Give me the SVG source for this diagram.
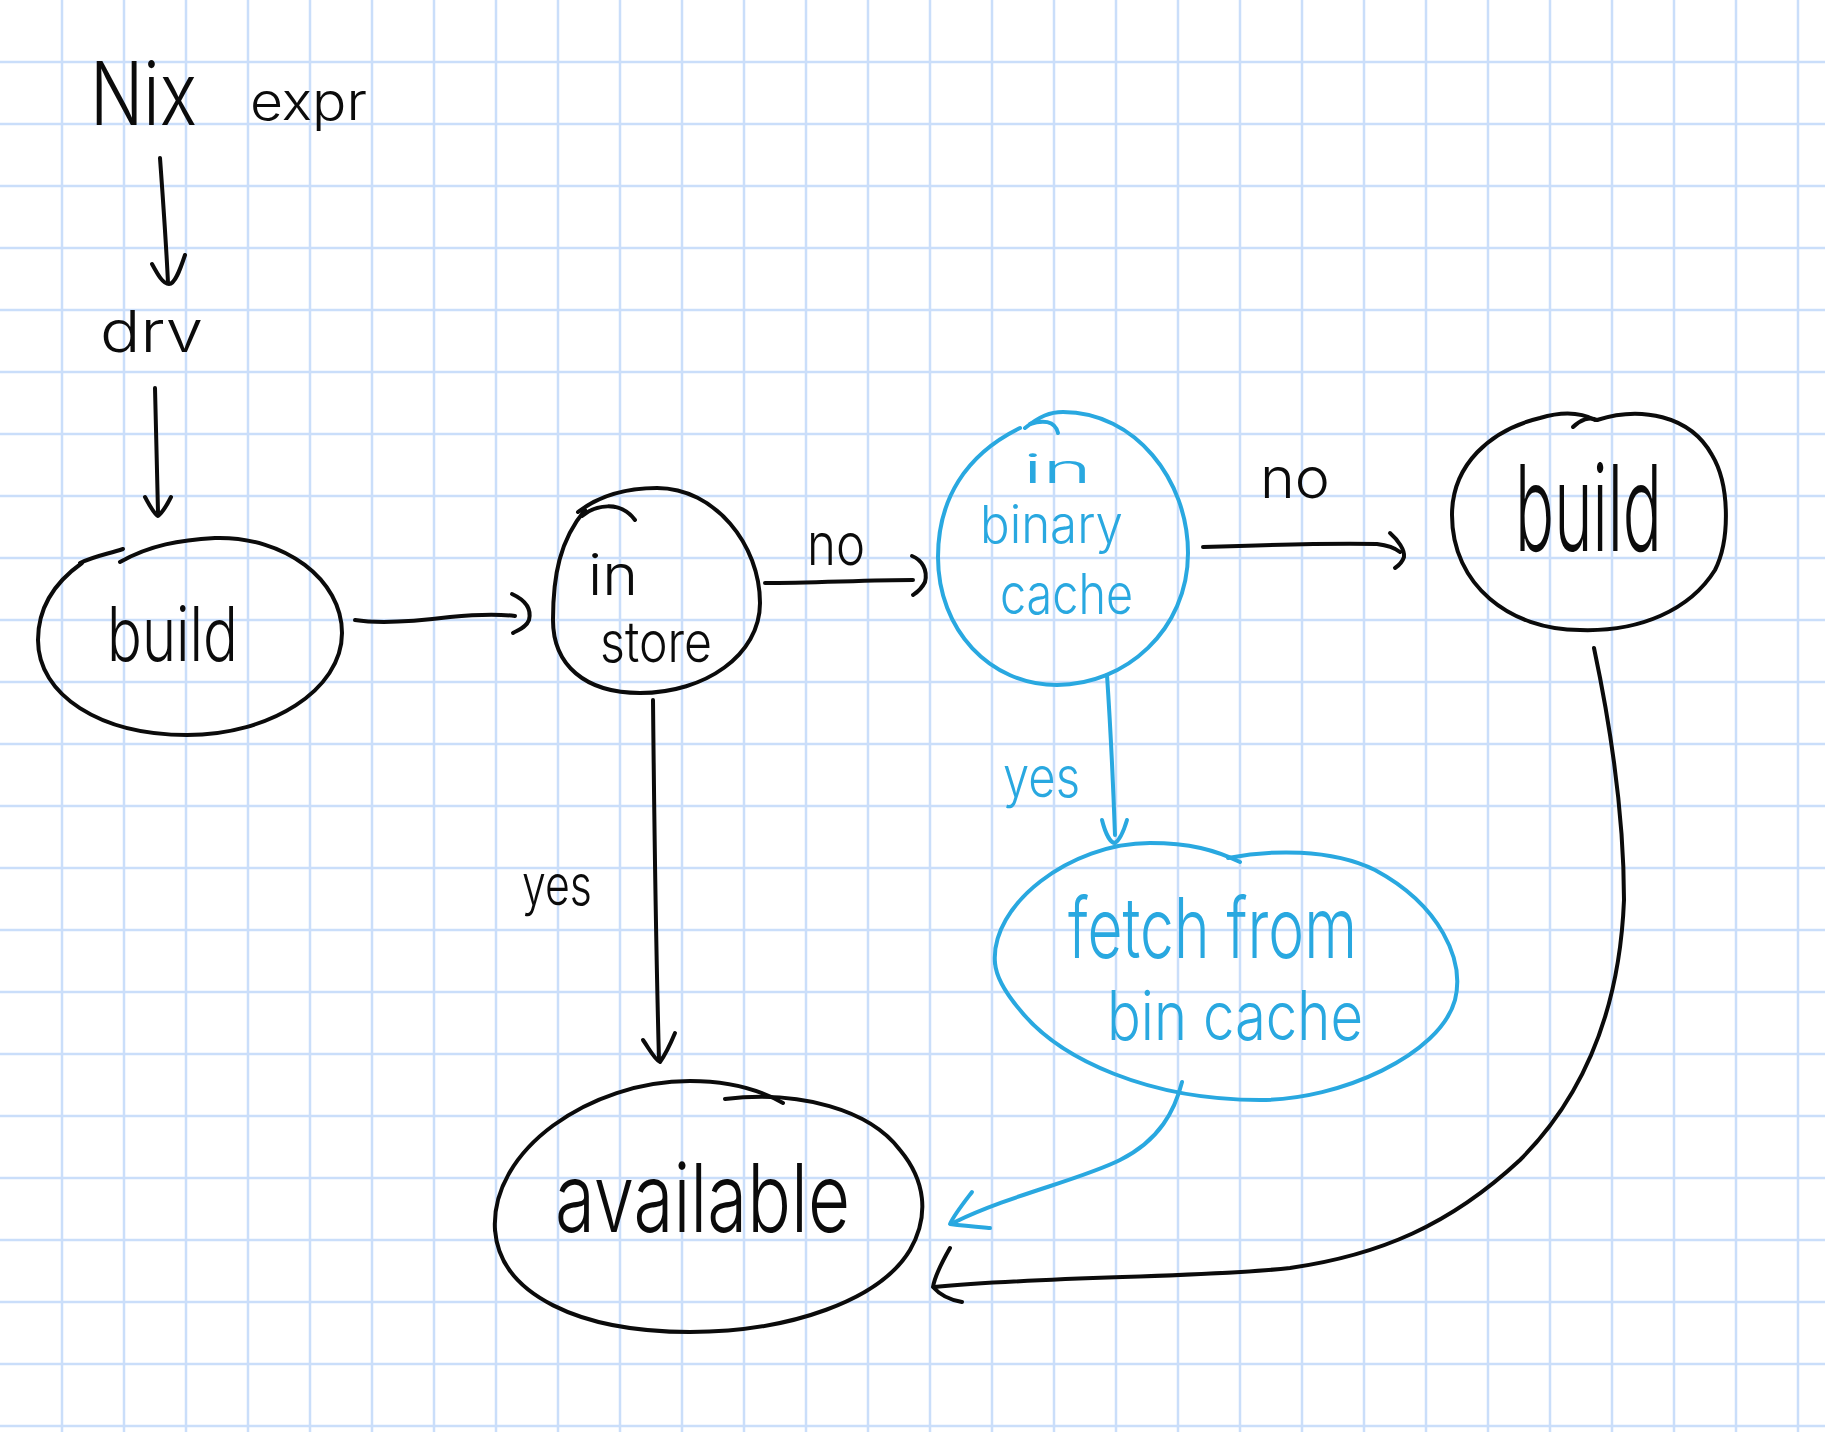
<svg xmlns="http://www.w3.org/2000/svg" width="1825" height="1432" viewBox="0 0 1825 1432">
<style>
.grid{stroke:#cadefa;stroke-width:2.5;fill:none}
.k{stroke:#0b0b0b;stroke-width:4;fill:none;stroke-linecap:round;stroke-linejoin:round}
.b{stroke:#29a8e0;stroke-width:4;fill:none;stroke-linecap:round;stroke-linejoin:round}
text{font-family:Inter,"Liberation Sans",sans-serif;font-weight:300}
.tk{fill:#0b0b0b}
.tb{fill:#29a8e0}
</style>
<rect width="1825" height="1432" fill="#ffffff"/>
<path class="grid" d="M62 0V1432M124 0V1432M186 0V1432M248 0V1432M310 0V1432M372 0V1432M434 0V1432M496 0V1432M558 0V1432M620 0V1432M682 0V1432M744 0V1432M806 0V1432M868 0V1432M930 0V1432M992 0V1432M1054 0V1432M1116 0V1432M1178 0V1432M1240 0V1432M1302 0V1432M1364 0V1432M1426 0V1432M1488 0V1432M1550 0V1432M1612 0V1432M1674 0V1432M1736 0V1432M1798 0V1432M0 62H1825M0 124H1825M0 186H1825M0 248H1825M0 310H1825M0 372H1825M0 434H1825M0 496H1825M0 558H1825M0 620H1825M0 682H1825M0 744H1825M0 806H1825M0 868H1825M0 930H1825M0 992H1825M0 1054H1825M0 1116H1825M0 1178H1825M0 1240H1825M0 1302H1825M0 1364H1825M0 1426H1825"/>

<g id="nix-expr">
<text class="tk"><tspan x="90" y="125" font-size="88" textLength="107" lengthAdjust="spacingAndGlyphs">Nix</tspan> <tspan x="250" y="120" font-size="52" textLength="117" lengthAdjust="spacingAndGlyphs">expr</tspan></text>
</g>
<g id="drv">
<text class="tk" x="100" y="352" font-size="58" textLength="103" lengthAdjust="spacingAndGlyphs">drv</text>
</g>
<g id="build-left">
<path class="k" d="M123 549C108 554 95 556 80 563"/>
<path class="k" d="M120 562C150 545 180 540 215 538C285 536 342 580 342 633C342 690 270 735 187 735C100 735 38 695 38 640C38 605 58 580 82 563"/>
<text class="tk" x="107" y="661" font-size="75" textLength="131" lengthAdjust="spacingAndGlyphs">build</text>
</g>
<g id="in-store">
<path class="k" d="M582 516C595 505 620 500 635 520"/>
<path class="k" d="M578 512C600 495 625 488 657 488C715 488 760 545 760 603C760 655 705 693 640 693C585 693 553 665 553 620C553 575 560 540 585 510"/>
<text class="tk" font-size="56"><tspan x="588" y="595" textLength="50" lengthAdjust="spacingAndGlyphs">in</tspan> <tspan x="600" y="662" textLength="112" lengthAdjust="spacingAndGlyphs">store</tspan></text>
</g>
<g id="in-binary-cache">
<path class="b" d="M1030 424C1042 420 1055 420 1058 433"/>
<path class="b" d="M1025 428C1040 416 1050 412 1063 412C1135 412 1188 480 1188 553C1188 630 1125 685 1057 685C990 685 938 630 938 557C938 500 965 455 1020 428"/>
<text class="tb"><tspan x="1023" y="483" font-size="40" textLength="69" lengthAdjust="spacingAndGlyphs">in</tspan> <tspan x="980" y="543" font-size="52" textLength="143" lengthAdjust="spacingAndGlyphs">binary</tspan> <tspan x="1000" y="614" font-size="56" textLength="133" lengthAdjust="spacingAndGlyphs">cache</tspan></text>
</g>
<g id="build-right">
<path class="k" d="M1573 427C1580 420 1590 416 1597 420"/>
<path class="k" d="M1595 420C1580 412 1560 412 1540 418C1490 430 1452 465 1452 515C1452 585 1510 630 1580 630C1640 632 1690 610 1715 570C1730 540 1730 485 1712 455C1690 415 1640 406 1597 420"/>
<text class="tk" x="1515" y="551" font-size="120" textLength="147" lengthAdjust="spacingAndGlyphs">build</text>
</g>
<g id="fetch-from-bin-cache">
<path class="b" d="M995 963C990 905 1070 843 1150 843C1190 843 1215 850 1240 862"/>
<path class="b" d="M1228 858C1270 850 1330 848 1375 870C1440 905 1465 960 1455 1000C1440 1055 1340 1100 1260 1100C1150 1100 1060 1060 1020 1010C1003 990 996 975 995 963"/>
<text class="tb"><tspan x="1068" y="958" font-size="84" textLength="289" lengthAdjust="spacingAndGlyphs">fetch from</tspan> <tspan x="1107" y="1040" font-size="68" textLength="256" lengthAdjust="spacingAndGlyphs">bin cache</tspan></text>
</g>
<g id="available">
<path class="k" d="M495 1230C490 1150 590 1081 690 1081C730 1081 760 1090 783 1103"/>
<path class="k" d="M725 1099C800 1090 870 1110 900 1150C925 1180 930 1215 910 1250C880 1300 790 1332 690 1332C580 1332 500 1295 495 1230"/>
<text class="tk" x="555" y="1232" font-size="95" textLength="295" lengthAdjust="spacingAndGlyphs">available</text>
</g>

<g id="connectors">
<path class="k" d="M160 158C163 200 166 240 168 283"/>
<path class="k" d="M152 264C158 275 163 284 169 284C175 284 180 270 185 255"/>
<path class="k" d="M155 388C156 430 157 470 158 512"/>
<path class="k" d="M145 497C150 506 154 514 158 516C163 512 167 505 171 497"/>
<path class="k" d="M355 620C380 624 410 622 450 617C480 614 500 614 515 616"/>
<path class="k" d="M512 594C525 600 532 608 529 620C526 628 518 630 513 633"/>
<path class="k" d="M765 583C810 583 870 580 913 580"/>
<path class="k" d="M912 556C922 560 928 570 925 582C921 590 916 593 913 595"/>
<path class="k" d="M1203 547C1260 545 1330 543 1377 544C1385 545 1395 548 1400 552"/>
<path class="k" d="M1390 533C1398 540 1405 550 1404 557C1402 563 1398 566 1395 568"/>
<path class="k" d="M653 700C654 800 656 950 659 1060"/>
<path class="k" d="M643 1040C650 1050 655 1060 660 1062C665 1055 670 1045 675 1033"/>
<path class="b" d="M1107 675C1110 720 1113 780 1115 835"/>
<path class="b" d="M1102 820C1105 832 1110 843 1115 843C1120 840 1124 830 1127 820"/>
<path class="b" d="M1182 1082C1175 1110 1160 1140 1120 1160C1080 1180 1010 1195 955 1222"/>
<path class="b" d="M972 1192C962 1205 954 1215 950 1224C965 1226 978 1227 990 1228"/>
<path class="k" d="M1594 648C1605 700 1624 800 1624 900C1620 1000 1590 1090 1520 1160C1450 1225 1380 1255 1290 1268C1200 1278 1050 1276 934 1287"/>
<path class="k" d="M950 1248C942 1262 935 1275 933 1287C940 1295 950 1300 962 1302"/>
<text class="tk" x="807" y="565" font-size="58" textLength="58" lengthAdjust="spacingAndGlyphs">no</text>
<text class="tk" x="1260" y="498" font-size="56" textLength="70" lengthAdjust="spacingAndGlyphs">no</text>
<text class="tk" x="522" y="905" font-size="56" textLength="70" lengthAdjust="spacingAndGlyphs">yes</text>
<text class="tb" x="1003" y="797" font-size="56" textLength="77" lengthAdjust="spacingAndGlyphs">yes</text>
</g>
</svg>
